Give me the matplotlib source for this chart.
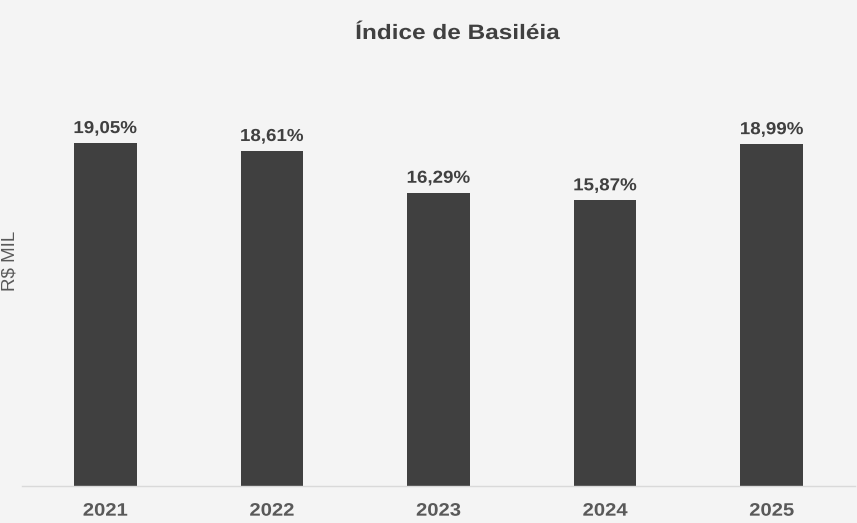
import matplotlib
matplotlib.use("Agg")
import matplotlib.pyplot as plt
from matplotlib.patheffects import AbstractPathEffect
from matplotlib.transforms import Affine2D

anos = ["2021", "2022", "2023", "2024", "2025"]
indice = [19.05, 18.61, 16.29, 15.87, 18.99]
rotulos = ["19,05%", "18,61%", "16,29%", "15,87%", "18,99%"]

plt.rcParams["font.family"] = ["Liberation Sans", "DejaVu Sans"]


# alarga o texto na horizontal (imita o espaçamento entre letras do original)
class Esticar(AbstractPathEffect):
    def __init__(self, sx):
        super().__init__()
        self.sx = sx

    def draw_path(self, renderer, gc, tpath, affine, rgbFace=None):
        ext = tpath.get_extents(affine)
        cx = (ext.x0 + ext.x1) / 2
        nova = affine + Affine2D().translate(-cx, 0).scale(self.sx, 1).translate(cx, 0)
        renderer.draw_path(gc, tpath, nova, rgbFace)


fundo = "#f4f4f4"
fig = plt.figure(figsize=(8.57, 5.23), dpi=100, facecolor=fundo)
ax = fig.add_axes([22 / 857, 37 / 523, 833 / 857, 436 / 523])
ax.set_facecolor(fundo)

x = range(len(anos))
ax.bar(x, indice, width=0.375, color="#404040", zorder=2)

for xi, v, r in zip(x, indice, rotulos):
    t = ax.annotate(r, (xi, v), xytext=(0, 5), textcoords="offset points",
                    ha="center", va="bottom", fontsize=12.5, fontweight="bold",
                    color="#404040")
    t.set_path_effects([Esticar(1.08)])

ax.set_xlim(-0.5, len(anos) - 0.5)
ax.set_ylim(0, 436 / 18.005)
ax.set_xticks(list(x))
ax.set_xticklabels(anos, fontsize=13, fontweight="bold", color="#595959")
for t in ax.get_xticklabels():
    t.set_path_effects([Esticar(1.12)])
ax.tick_params(axis="x", length=0, pad=12)
ax.set_yticks([])

for lado in ["top", "right", "left"]:
    ax.spines[lado].set_visible(False)
ax.spines["bottom"].set_color("#d9d9d9")
ax.spines["bottom"].set_linewidth(1)

fig.text(10 / 857, 1 - 261 / 523, "R$ MIL", rotation=90, ha="center",
         va="center", fontsize=13.5, color="#595959")
titulo = fig.text(458 / 857, 1 - 39 / 523, "Índice de Basiléia", ha="center",
                  va="baseline", fontsize=15, fontweight="bold", color="#404040")
titulo.set_path_effects([Esticar(1.17)])

fig.savefig("out.png", dpi=100, facecolor=fundo)
